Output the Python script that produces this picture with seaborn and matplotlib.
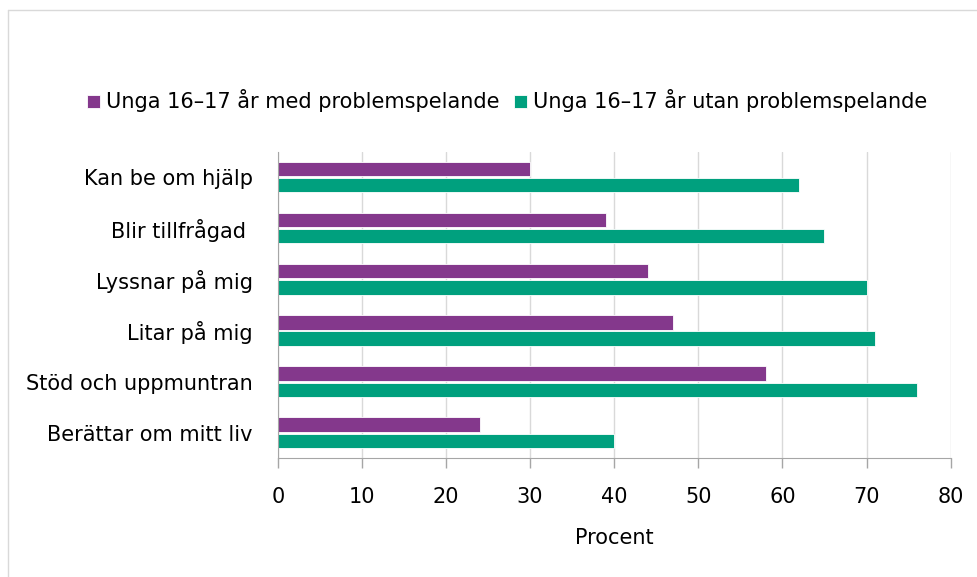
import matplotlib
matplotlib.use("Agg")
import matplotlib.pyplot as plt
import seaborn as sns
import pandas as pd
from matplotlib.lines import Line2D

categories = ["Kan be om hjälp", "Blir tillfrågad ", "Lyssnar på mig", "Litar på mig",
              "Stöd och uppmuntran", "Berättar om mitt liv"]
series_names = ["Unga 16–17 år med problemspelande", "Unga 16–17 år utan problemspelande"]
med_values = [30, 39, 44, 47, 58, 24]
utan_values = [62, 65, 70, 71, 76, 40]
x_ticks = [0, 10, 20, 30, 40, 50, 60, 70, 80]
x_label = "Procent"
colors = ["#84388C", "#00A07E"]

df = pd.DataFrame({
    "kategori": categories * 2,
    "serie": [series_names[0]] * len(categories) + [series_names[1]] * len(categories),
    "varde": med_values + utan_values,
})

sns.set_style("white")
plt.rcParams["font.family"] = ["DejaVu Sans"]
plt.rcParams["text.color"] = "black"
plt.rcParams["axes.labelcolor"] = "black"
plt.rcParams["xtick.color"] = "black"
plt.rcParams["ytick.color"] = "black"

fig = plt.figure(figsize=(9.78, 5.77), dpi=100)
ax = fig.add_axes([0.284, 0.206, 0.688, 0.531])

sns.barplot(data=df, y="kategori", x="varde", hue="serie", order=categories,
            hue_order=series_names, palette=colors, saturation=1, orient="h",
            width=0.63, gap=0.12, edgecolor="white", linewidth=0.6, ax=ax, legend=True)

ax.set_xlim(0, 80)
ax.set_ylim(5.5, -0.5)
ax.set_xticks(x_ticks)
ax.set_xticklabels([str(t) for t in x_ticks], fontsize=15)
ax.set_xlabel(x_label, fontsize=15, labelpad=15)
ax.set_ylabel("")
ax.tick_params(axis="y", left=False, length=0, pad=18, labelsize=15)
ax.tick_params(axis="x", bottom=True, length=7, width=1, color="#A6A6A6",
               labelcolor="black", pad=14)
ax.grid(axis="x", color="#D9D9D9", linewidth=1)
ax.set_axisbelow(True)
for s in ["top", "right"]:
    ax.spines[s].set_visible(False)
ax.spines["left"].set_color("#A6A6A6")
ax.spines["bottom"].set_color("#A6A6A6")

leg = ax.legend(loc="center", bbox_to_anchor=(0.5185, 0.825), bbox_transform=fig.transFigure,
                ncol=2, frameon=False, fontsize=15, handlelength=0.6, handleheight=0.6,
                handletextpad=0.3, columnspacing=0.7)

# outer chart frame (top and left edges)
fig.add_artist(Line2D([0.008, 1.0], [0.983, 0.983], transform=fig.transFigure,
                      color="#D9D9D9", linewidth=1))
fig.add_artist(Line2D([0.008, 0.008], [0.0, 0.983], transform=fig.transFigure,
                      color="#D9D9D9", linewidth=1))

fig.savefig("out.png", dpi=100, facecolor="white")
